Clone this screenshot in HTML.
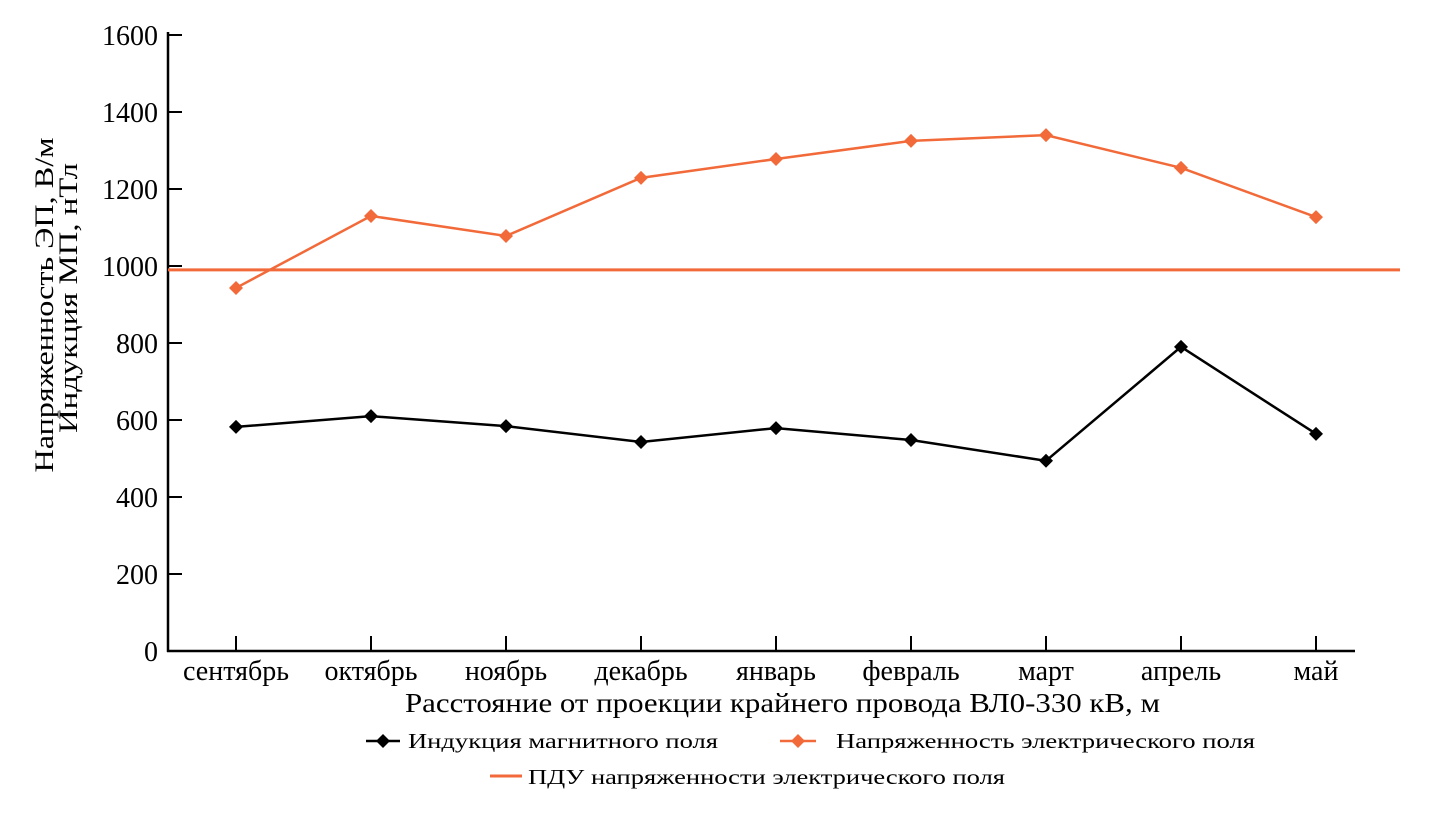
<!DOCTYPE html>
<html><head><meta charset="utf-8"><style>
html,body{margin:0;padding:0;background:#fff;}
svg{display:block;font-family:"Liberation Serif",serif;}
</style></head><body>
<svg id="chart" width="1443" height="815" viewBox="0 0 1443 815" xmlns="http://www.w3.org/2000/svg">
<g id="axes"></g>
<g id="marks"></g>
<g font-size="26">
<text transform="translate(53,305) rotate(-90)" text-anchor="middle" textLength="335" lengthAdjust="spacingAndGlyphs">Напряженность ЭП, В/м</text>
<text transform="translate(77,298) rotate(-90)" text-anchor="middle" textLength="270" lengthAdjust="spacingAndGlyphs">Индукция МП, нТл</text>
</g>
<text x="405" y="712" font-size="27" textLength="755" lengthAdjust="spacingAndGlyphs">Расстояние от проекции крайнего провода ВЛ0-330 кВ, м</text>
<g font-size="21">
<g>
<line x1="366" y1="741" x2="400" y2="741" stroke="#000" stroke-width="2.5"/>
<path d="M383 734 L390 741 L383 748 L376 741Z" fill="#000"/>
<text x="408" y="748" textLength="310" lengthAdjust="spacingAndGlyphs">Индукция магнитного поля</text>
</g>
<g>
<line x1="780" y1="741" x2="816" y2="741" stroke="#f26a3a" stroke-width="2.5"/>
<path d="M798 734 L805 741 L798 748 L791 741Z" fill="#f26a3a"/>
<text x="836" y="748" textLength="419" lengthAdjust="spacingAndGlyphs">Напряженность электрического поля</text>
</g>
<g>
<line x1="490" y1="776" x2="522" y2="776" stroke="#f26a3a" stroke-width="3"/>
<text x="528" y="784" textLength="477" lengthAdjust="spacingAndGlyphs">ПДУ напряженности электрического поля</text>
</g>
</g>
</svg>
<script>
const categories=["сентябрь","октябрь","ноябрь","декабрь","январь","февраль","март","апрель","май"];
const electricValues=[943,1130,1078,1229,1278,1325,1340,1255,1127];
const magneticValues=[582,610,584,543,579,548,494,790,564];
const limitValue=990;
const yTicks=[0,200,400,600,800,1000,1200,1400,1600];
const NS="http://www.w3.org/2000/svg";
const x0=168,x1=1355,y0=651,y1=35,yMax=1600;
const xs=i=>236+i*135;
const ys=v=>y0-(v/yMax)*(y0-y1);
const axes=document.getElementById('axes'),marks=document.getElementById('marks');
function mk(tag,attrs,parent){const e=document.createElementNS(NS,tag);for(const k in attrs)e.setAttribute(k,attrs[k]);parent.appendChild(e);return e;}
const ya=mk('line',{x1:x0,y1:y1-3,x2:x0,y2:y0+1,stroke:'#000','stroke-width':2.5},axes);


const xa=mk('line',{x1:x0-1,y1:y0,x2:x1,y2:y0,stroke:'#000','stroke-width':2.5},axes);


yTicks.forEach(v=>{
  const t=mk('line',{x1:x0,y1:ys(v),x2:x0+14,y2:ys(v),stroke:'#000','stroke-width':2},axes);
  
  
  const l=mk('text',{x:158,y:ys(v)+10,'text-anchor':'end','font-size':28},axes);
  
  
  l.textContent=v;
});
categories.forEach((c,i)=>{
  const t=mk('line',{x1:xs(i),y1:y0,x2:xs(i),y2:y0-15,stroke:'#000','stroke-width':2},axes);
  
  
  const l=mk('text',{x:xs(i),y:y0+29,'text-anchor':'middle','font-size':28},axes);
  
  
  l.textContent=c;
});
const lim=mk('line',{x1:x0,y1:ys(limitValue),x2:1400,y2:ys(limitValue),stroke:'#f26a3a','stroke-width':3},marks);


function series(vals,color,name){
  const p=mk('polyline',{points:vals.map((v,i)=>xs(i)+','+ys(v)).join(' '),fill:'none',stroke:color,'stroke-width':2.5},marks);
  
  
  vals.forEach((v,i)=>{
    const x=xs(i),y=ys(v);
    const d=mk('path',{d:`M${x} ${y-7}L${x+7} ${y}L${x} ${y+7}L${x-7} ${y}Z`,fill:color},marks);
    
    
  });
}
series(electricValues,'#f26a3a','electric');
series(magneticValues,'#000','magnetic');
</script>
</body></html>
